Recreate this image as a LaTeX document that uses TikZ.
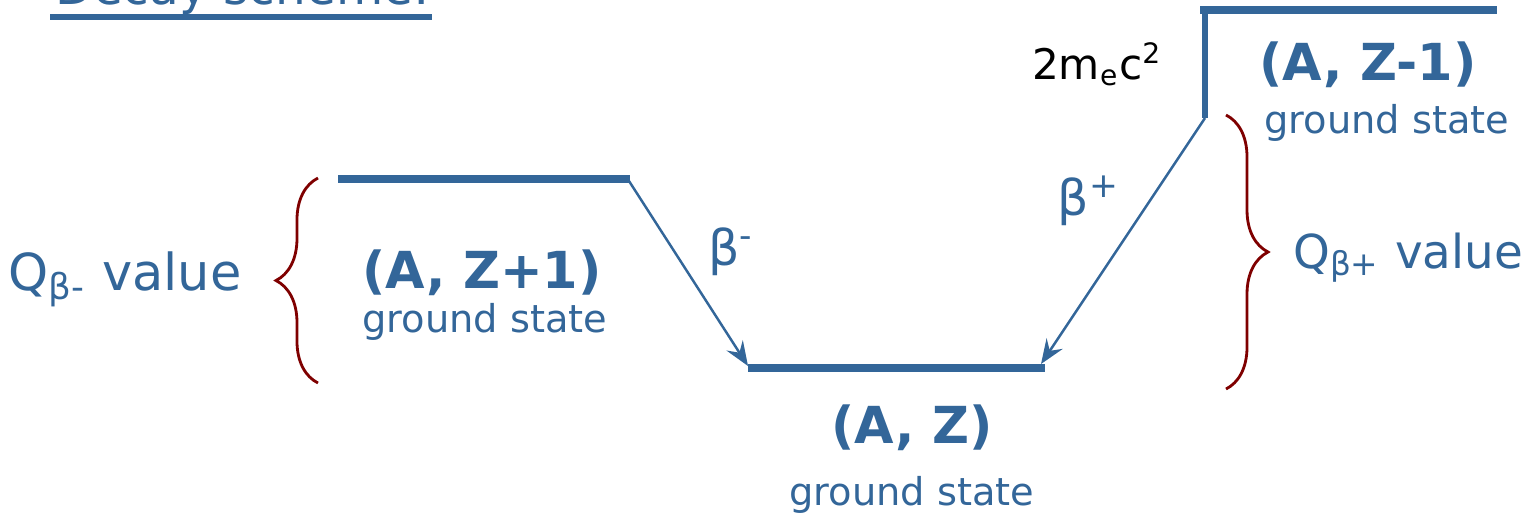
\documentclass[tikz,border=0pt]{standalone}
\usepackage{fontspec}
\setmainfont{DejaVu Sans}
\usetikzlibrary{decorations.pathreplacing,arrows.meta}
\definecolor{lvl}{HTML}{336699}
\definecolor{brc}{HTML}{7F0000}
\tikzset{
  level/.style={draw=lvl, line width=2.4pt},
  trans/.style={draw=lvl, line width=0.7pt, -{Stealth[length=7pt,width=5.5pt,inset=2.5pt]}},
  bracestyle/.style={draw=brc, line width=0.8pt, decorate, decoration={brace, amplitude=0.42cm, aspect=0.5}},
  state/.style={text=lvl, font=\bfseries\fontsize{14.5}{16}\selectfont, anchor=base, inner sep=0pt},
  gs/.style={text=lvl, font=\fontsize{10.9}{12}\selectfont, anchor=base, inner sep=0pt},
  qlab/.style={text=lvl, font=\fontsize{14.5}{16}\selectfont, anchor=base, inner sep=0pt},
  blab/.style={text=lvl, font=\fontsize{14}{16}\selectfont, inner sep=0pt}
}
\begin{document}
\begin{tikzpicture}[x=0.01cm, y=-0.01cm]
\useasboundingbox (0,0) rectangle (1533,520);
% title (cut off at top)
\node[text=lvl, font=\fontsize{13.8}{15}\selectfont, anchor=base west, inner sep=0pt] (title) at (55,4) {Decay scheme:};
\draw[draw=lvl, line width=1.7pt] (50,17) -- (432,17);
% levels
\coordinate (zp1L) at (338,179);
\coordinate (zp1R) at (630,179);
\coordinate (zL) at (748,368);
\coordinate (zR) at (1045,368);
\coordinate (zm1L) at (1200,10);
\coordinate (zm1R) at (1497,10);
\coordinate (zm1B) at (1205,118);
\draw[level] (zp1L) -- (zp1R);
\draw[level] (zL) -- (zR);
\draw[level] (zm1L) -- (zm1R);
\draw[draw=lvl, line width=1.5pt] (1205,10) -- (zm1B);
% transitions
\coordinate (bmS) at (629,181);
\coordinate (bmE) at (748,366);
\coordinate (bpE) at (1041,364);
\draw[trans] (bmS) -- (bmE);
\draw[trans] (zm1B) -- (bpE);
\node[blab] (bm) at (731,252) {β\textsuperscript{-}};
\node[blab] (bp) at (1089,201) {β\textsuperscript{+}};
% state labels
\node[state] (s1) at (482,288) {(A, Z+1)};
\node[gs] (g1) at (485,332) {ground state};
\node[state] (s2) at (912,443) {(A, Z)};
\node[gs] (g2) at (912,505) {ground state};
\node[state] (s3) at (1368,80) {(A, Z-1)};
\node[gs] (g3) at (1387,133) {ground state};
\node[text=black, font=\fontsize{12}{14}\selectfont, anchor=base, inner sep=0pt] (mc) at (1097,79) {2m\textsubscript{e}c\textsuperscript{2}};
% braces
\coordinate (lbB) at (318,383);
\coordinate (lbT) at (318,178);
\coordinate (rbT) at (1226,115);
\coordinate (rbB) at (1226,389);
\draw[bracestyle] (lbB) -- (lbT);
\draw[bracestyle] (rbT) -- (rbB);
\node[qlab] (ql) at (125,290) {Q\textsubscript{β-} value};
\node[qlab, font=\fontsize{13.3}{15}\selectfont] (qr) at (1408,268) {Q\textsubscript{β+} value};
\end{tikzpicture}
\end{document}
